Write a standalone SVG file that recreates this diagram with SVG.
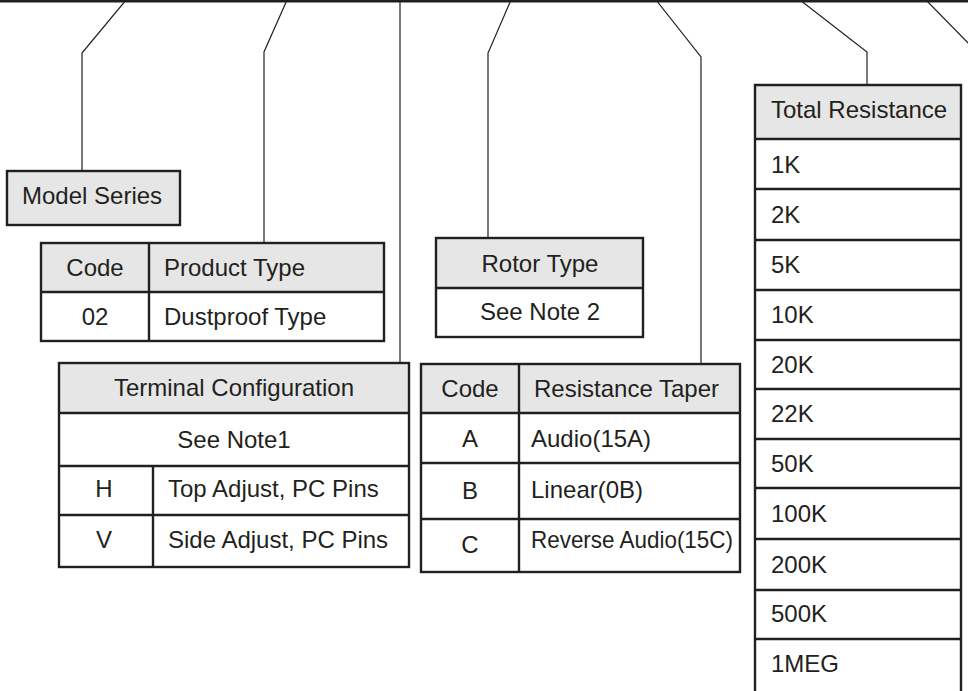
<svg xmlns="http://www.w3.org/2000/svg" width="968" height="691" viewBox="0 0 968 691">
<style>
text{font-family:"Liberation Sans",Arial,sans-serif;font-size:24px;fill:#231f20}
.m{text-anchor:middle}
.box{stroke:#231f20;stroke-width:2.4;fill:#fff}
.hd{fill:#e6e6e6;stroke:none}
.ln{stroke:#231f20;stroke-width:2.4;fill:none}
.cn{stroke:#231f20;stroke-width:1.2;fill:none}
</style>
<rect width="968" height="691" fill="#fff"/>
<g id="connectors">
<line x1="0" y1="1" x2="968" y2="1" stroke="#231f20" stroke-width="3"/>
<polyline class="cn" points="126,0 82,53 82,171"/>
<polyline class="cn" points="287,0 264,52 264,243"/>
<polyline class="cn" points="400,0 400,363"/>
<polyline class="cn" points="511,0 488,53 488,238"/>
<polyline class="cn" points="656,0 701,57 701,364"/>
<polyline class="cn" points="800,0 867,52 867,85"/>
<polyline class="cn" points="926,0 970,45"/>
</g>
<g id="model-series">
<rect x="7" y="171" width="173" height="54" fill="#e6e6e6" stroke="#231f20" stroke-width="2.4"/>
<text x="22" y="204">Model Series</text>
</g>
<g id="product-type">
<rect class="hd" x="41" y="243" width="343" height="49"/>
<rect x="41" y="243" width="343" height="98" class="box" fill-opacity="0"/>
<line class="ln" x1="41" y1="292" x2="384" y2="292"/>
<line class="ln" x1="149" y1="243" x2="149" y2="341"/>
<text class="m" x="95" y="276">Code</text>
<text x="164" y="276">Product Type</text>
<text class="m" x="95" y="325">02</text>
<text x="164" y="325">Dustproof Type</text>
</g>
<g id="terminal-configuration">
<rect class="hd" x="59" y="363" width="350" height="50"/>
<rect x="59" y="363" width="350" height="204" class="box" fill-opacity="0"/>
<line class="ln" x1="59" y1="413" x2="409" y2="413"/>
<line class="ln" x1="59" y1="466" x2="409" y2="466"/>
<line class="ln" x1="59" y1="515" x2="409" y2="515"/>
<line class="ln" x1="153" y1="466" x2="153" y2="567"/>
<text class="m" x="234" y="396">Terminal Configuration</text>
<text class="m" x="234" y="448">See Note1</text>
<text class="m" x="104" y="497">H</text>
<text x="168" y="497">Top Adjust, PC Pins</text>
<text class="m" x="104" y="548">V</text>
<text x="168" y="548">Side Adjust, PC Pins</text>
</g>
<g id="rotor-type">
<rect class="hd" x="436" y="238" width="207" height="50"/>
<rect x="436" y="238" width="207" height="99" class="box" fill-opacity="0"/>
<line class="ln" x1="436" y1="288" x2="643" y2="288"/>
<text class="m" x="540" y="272">Rotor Type</text>
<text class="m" x="540" y="320">See Note 2</text>
</g>
<g id="resistance-taper">
<rect class="hd" x="421" y="364" width="319" height="49"/>
<rect x="421" y="364" width="319" height="208" class="box" fill-opacity="0"/>
<line class="ln" x1="421" y1="413" x2="740" y2="413"/>
<line class="ln" x1="421" y1="463" x2="740" y2="463"/>
<line class="ln" x1="421" y1="519" x2="740" y2="519"/>
<line class="ln" x1="519" y1="364" x2="519" y2="572"/>
<text class="m" x="470" y="397">Code</text>
<text x="534" y="397">Resistance Taper</text>
<text class="m" x="470" y="447">A</text>
<text x="531" y="447">Audio(15A)</text>
<text class="m" x="470" y="499">B</text>
<text x="531" y="498">Linear(0B)</text>
<text class="m" x="470" y="553">C</text>
<text x="531" y="548" textLength="202" lengthAdjust="spacingAndGlyphs">Reverse Audio(15C)</text>
</g>
<g id="total-resistance">
<rect class="hd" x="755" y="85" width="206" height="54"/>
<polyline class="ln" points="755,693 755,85 961,85 961,693"/>
<line class="ln" x1="755" y1="139" x2="961" y2="139"/>
<line class="ln" x1="755" y1="189" x2="961" y2="189"/>
<line class="ln" x1="755" y1="240" x2="961" y2="240"/>
<line class="ln" x1="755" y1="290" x2="961" y2="290"/>
<line class="ln" x1="755" y1="340" x2="961" y2="340"/>
<line class="ln" x1="755" y1="389" x2="961" y2="389"/>
<line class="ln" x1="755" y1="439" x2="961" y2="439"/>
<line class="ln" x1="755" y1="488" x2="961" y2="488"/>
<line class="ln" x1="755" y1="539" x2="961" y2="539"/>
<line class="ln" x1="755" y1="590" x2="961" y2="590"/>
<line class="ln" x1="755" y1="639" x2="961" y2="639"/>
<text x="771" y="118">Total Resistance</text>
<text x="771" y="173">1K</text>
<text x="771" y="223">2K</text>
<text x="771" y="273">5K</text>
<text x="771" y="323">10K</text>
<text x="771" y="373">20K</text>
<text x="771" y="422">22K</text>
<text x="771" y="472">50K</text>
<text x="771" y="522">100K</text>
<text x="771" y="573">200K</text>
<text x="771" y="622">500K</text>
<text x="771" y="672">1MEG</text>
</g>
</svg>
